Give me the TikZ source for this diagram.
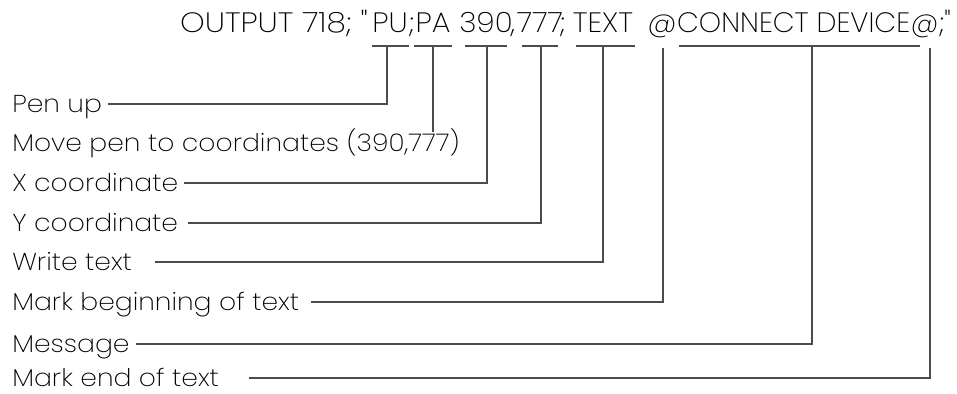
\documentclass[tikz,border=0pt]{standalone}
\usepackage{fontspec}
\setmainfont{Poppins ExtraLight}
\newfontfamily\lblfont{Poppins ExtraLight}[FakeStretch=1.09]
\newfontfamily\hdrfont{Poppins ExtraLight}[FakeStretch=1.06]
\newfontfamily\hdrwide{Poppins ExtraLight}[FakeStretch=1.12]
\newfontfamily\hdrtail{Poppins ExtraLight}[FakeStretch=1.01]
\begin{document}
\begin{tikzpicture}[x=0.75pt,y=-0.75pt,
  lbl/.style={anchor=base west,inner sep=0pt,
    font=\lblfont\fontsize{18.3pt}{20pt}\selectfont,text=black},
  hdr/.style={anchor=base,inner sep=0pt,font=\hdrfont\fontsize{21pt}{24pt}\selectfont,text=black},
  tail/.style={hdr,anchor=base west,font=\hdrtail\fontsize{21pt}{24pt}\selectfont},
  wire/.style={line width=0.8pt,draw=black!70},
]
\useasboundingbox (0,0) rectangle (957,393);
% header, split so that each underlined part sits over its bar
\node[hdr,anchor=base east,font=\hdrwide\fontsize{21pt}{24pt}\selectfont] (h0) at (368,32) {OUTPUT 718; "};
\node[hdr] (hpu)  at (390,32) {PU};
\node[hdr] (hs1)  at (411.5,32) {;};
\node[hdr] (hpa)  at (433,32) {PA};
\node[hdr] (h390) at (486,32) {390};
\node[hdr] (hcm)  at (513,32) {,};
\node[hdr] (h777) at (540,32) {777};
\node[hdr] (hs2)  at (562.5,32) {;};
\node[hdr] (htx)  at (603,32) {TEXT};
\node[hdr] (hat1) at (662,32) {@};
\node[tail] (hcd)  at (hat1.base east) {CONNECT DEVICE};
\node[tail] (hat2) at (hcd.base east) {@};
\node[tail] (hend) at (hat2.base east) {;"};

\node[lbl] (l1) at (12,112.5) {Pen up};
\node[lbl] (l2) at (12,151.5) {Move pen to coordinates (390,777)};
\node[lbl] (l3) at (12,191.5) {X coordinate};
\node[lbl] (l4) at (12,231.5) {Y coordinate};
\node[lbl] (l5) at (12,270.5) {Write text};
\node[lbl] (l6) at (12,310.5) {Mark beginning of text};
\node[lbl] (l7) at (12,352.5) {Message};
\node[lbl] (l8) at (12,386.5) {Mark end of text};

% underline bars
\coordinate (b1a) at (372,46); \coordinate (b1b) at (409,46);
\coordinate (b2a) at (414,46); \coordinate (b2b) at (452,46);
\coordinate (b3a) at (465,46); \coordinate (b3b) at (507,46);
\coordinate (b4a) at (522,46); \coordinate (b4b) at (558,46);
\coordinate (b5a) at (576,46); \coordinate (b5b) at (635,46);
\coordinate (b7a) at (679,46); \coordinate (b7b) at (920,46);
\draw[wire] (b1a) -- (b1b) (b2a) -- (b2b) (b3a) -- (b3b)
            (b4a) -- (b4b) (b5a) -- (b5b) (b7a) -- (b7b);

% tick points
\coordinate (t1) at (387,46);
\coordinate (t2) at (433,46);
\coordinate (t3) at (487,46);
\coordinate (t4) at (541,46);
\coordinate (t5) at (603,46);
\coordinate (t6) at (663,48);
\coordinate (t7) at (812,46);
\coordinate (t8) at (930,48);

\draw[wire] ([xshift=4.5pt,yshift=6.4pt]l1.base east) -| (t1);
\draw[wire] (t2) -- ([yshift=15pt]t2 |- l2.base);
\draw[wire] ([xshift=4pt,yshift=6.4pt]l3.base east) -| (t3);
\draw[wire] ([xshift=7pt,yshift=6.4pt]l4.base east) -| (t4);
\draw[wire] ([xshift=17pt,yshift=6.4pt]l5.base east) -| (t5);
\draw[wire] ([xshift=9pt,yshift=6.4pt]l6.base east) -| (t6);
\draw[wire] ([xshift=4.5pt,yshift=6.4pt]l7.base east) -| (t7);
\draw[wire] ([xshift=22pt,yshift=6.4pt]l8.base east) -| (t8);
\end{tikzpicture}
\end{document}
